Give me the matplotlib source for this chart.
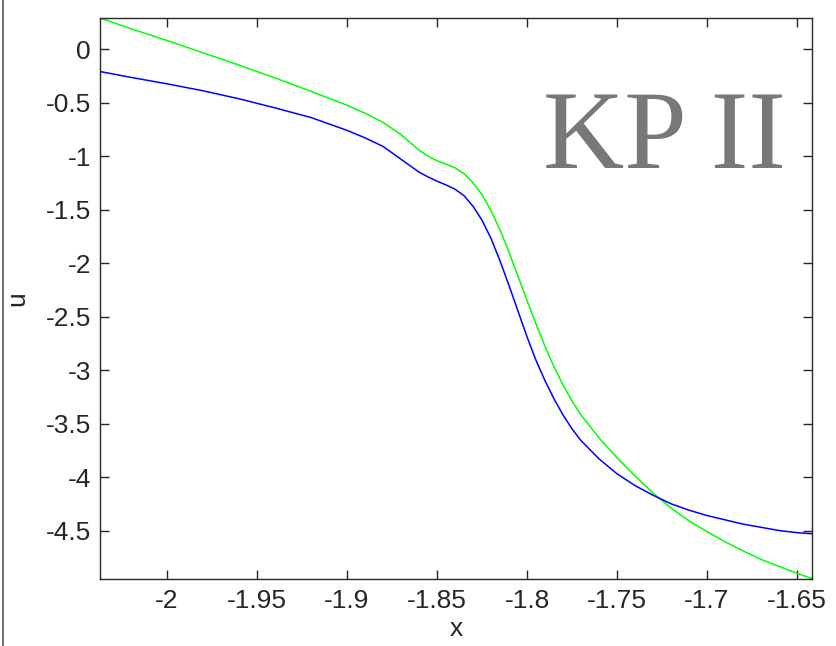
import matplotlib
matplotlib.use("Agg")
import matplotlib.pyplot as plt
from matplotlib.lines import Line2D

# Data
x_green = [-2.0372, -2.02, -2.00, -1.98, -1.96, -1.94, -1.92, -1.90, -1.89, -1.88,
           -1.87, -1.86, -1.855, -1.85, -1.845, -1.84, -1.835, -1.83, -1.825, -1.82,
           -1.815, -1.81, -1.805, -1.80, -1.795, -1.79, -1.785, -1.78, -1.775, -1.77,
           -1.76, -1.75, -1.74, -1.73, -1.72, -1.71, -1.70, -1.69, -1.68, -1.67,
           -1.66, -1.65, -1.6417]
u_green = [0.29, 0.19, 0.08, -0.035, -0.15, -0.27, -0.395, -0.525, -0.60, -0.685,
           -0.80, -0.945, -1.00, -1.045, -1.075, -1.11, -1.165, -1.25, -1.36, -1.51,
           -1.69, -1.90, -2.125, -2.35, -2.57, -2.78, -2.97, -3.14, -3.29, -3.42,
           -3.635, -3.82, -3.99, -4.15, -4.29, -4.41, -4.51, -4.605, -4.69, -4.77,
           -4.835, -4.90, -4.95]

x_blue = [-2.0372, -2.02, -2.00, -1.98, -1.96, -1.94, -1.93, -1.92, -1.91, -1.90,
          -1.89, -1.88, -1.87, -1.86, -1.855, -1.85, -1.845, -1.84, -1.835, -1.83,
          -1.825, -1.82, -1.815, -1.81, -1.805, -1.80, -1.795, -1.79, -1.785, -1.78,
          -1.775, -1.77, -1.76, -1.75, -1.74, -1.73, -1.72, -1.71, -1.70, -1.69,
          -1.68, -1.67, -1.66, -1.65, -1.6417]
u_blue = [-0.21, -0.265, -0.325, -0.39, -0.465, -0.55, -0.595, -0.64, -0.70, -0.76,
          -0.83, -0.91, -1.03, -1.15, -1.195, -1.235, -1.27, -1.31, -1.37, -1.47,
          -1.60, -1.77, -1.98, -2.21, -2.45, -2.69, -2.91, -3.10, -3.27, -3.42,
          -3.55, -3.66, -3.83, -3.97, -4.08, -4.17, -4.25, -4.31, -4.36, -4.40,
          -4.44, -4.47, -4.50, -4.52, -4.53]

xticks = [-2.0, -1.95, -1.9, -1.85, -1.8, -1.75, -1.7, -1.65]
xticklabels = ["-2", "-1.95", "-1.9", "-1.85", "-1.8", "-1.75", "-1.7", "-1.65"]
yticks = [0, -0.5, -1, -1.5, -2, -2.5, -3, -3.5, -4, -4.5]
yticklabels = ["0", "-0.5", "-1", "-1.5", "-2", "-2.5", "-3", "-3.5", "-4", "-4.5"]

plt.rcParams['font.family'] = ['Liberation Sans', 'DejaVu Sans']

fig = plt.figure(figsize=(8.36, 6.46), dpi=100)
ax = fig.add_axes([100/836, 1 - 579/646, 712/836, 561/646])

ax.plot(x_green, u_green, color='#00ff00', lw=1.1)
ax.plot(x_blue, u_blue, color='#0000ff', lw=1.1)

ax.set_xlim(-2.0372, -1.6417)
ax.set_ylim(-4.953, 0.29)

dark = '#262626'
ax.set_xticks(xticks)
ax.set_xticklabels(xticklabels)
ax.set_yticks(yticks)
ax.set_yticklabels(yticklabels)
ax.tick_params(direction='in', length=6.5, width=1.0, color=dark,
               labelsize=19, labelcolor=dark, top=True, right=True)
ax.tick_params(axis='x', pad=7)
ax.tick_params(axis='y', pad=6.5)
for s in ax.spines.values():
    s.set_color(dark)
    s.set_linewidth(1.0)

ax.set_xlabel('x', fontsize=19, color=dark)
ax.set_ylabel('u', fontsize=19, color=dark)
ax.xaxis.set_label_coords(0.5, -0.068)
ax.yaxis.set_label_coords(-0.10, 0.5)

ax.text(0.963, 0.733, 'KP II', transform=ax.transAxes, ha='right', va='baseline',
        fontsize=81, color='#787878', family=['Liberation Serif', 'DejaVu Serif'])

fig.add_artist(Line2D([3/836, 3/836], [0, 1], transform=fig.transFigure,
                      color='#555555', lw=1.2))

fig.savefig('out.png', dpi=100)
